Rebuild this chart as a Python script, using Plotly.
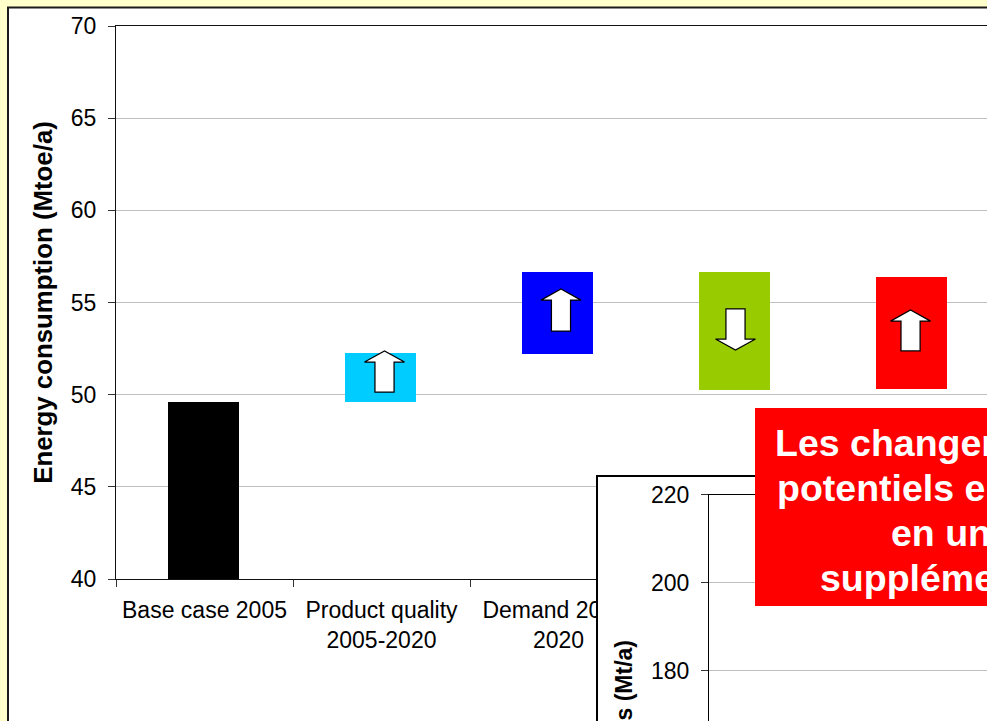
import plotly.graph_objects as go

W, H = 987, 721

categories = ["Base case 2005", "Product quality<br>2005-2020", "Demand 2005-<br>2020", "\u00a0", "\u00a0\u00a0"]
bar_base = [40, 49.6, 52.2, 50.25, 50.3]
bar_top = [49.6, 52.25, 56.65, 56.65, 56.4]
bar_colors = ["#000000", "#00CCFF", "#0000FF", "#99CC00", "#FF0000"]

arrow_cat = [1, 2, 3, 4]
arrow_tail = [50.14, 53.45, 54.65, 52.37]
arrow_tip = [52.37, 55.73, 52.42, 54.59]
arrow_shift = [0.017, 0.014, 0.0, -0.011]

main_ticks = [40, 45, 50, 55, 60, 65, 70]
inset_ticks = [180, 200, 220]

callout_lines = ["Les changem", "potentiels en", "en un", "supplémen"]
callout_x_px = [772.5, 774.5, 888.5, 817.5]
callout_y_px = [443, 488, 533, 578]

FONT = "Liberation Sans, Arial, sans-serif"


def px(x):
    return x / W


def py(y):
    return 1 - y / H


def arrow_path(c, tail, tip):
    head = 0.6 if tip > tail else -0.6
    hw, sw = 0.113, 0.054
    pts = [(c - sw, tail), (c - sw, tip - head), (c - hw, tip - head), (c, tip),
           (c + hw, tip - head), (c + sw, tip - head), (c + sw, tail)]
    return "M" + " L".join(f"{a},{b}" for a, b in pts) + " Z"


fig = go.Figure()
fig.add_trace(go.Bar(
    x=categories, y=[t - b for t, b in zip(bar_top, bar_base)], base=bar_base,
    width=0.402, offset=-0.207, marker=dict(color=bar_colors, line=dict(width=0)),
    xaxis="x", yaxis="y", showlegend=False,
))
fig.add_trace(go.Scatter(x=[None], y=[None], xaxis="x2", yaxis="y2", showlegend=False))
fig.add_trace(go.Scatter(x=[None], y=[None], xaxis="x3", yaxis="y3", showlegend=False))

shapes = [dict(type="rect", xref="paper", yref="paper", layer="below",
               x0=px(8), x1=1.02, y0=-0.02, y1=py(7.5),
               fillcolor="#FFFFFF", line=dict(color="#1a1a1a", width=2))]
for i, c in enumerate(arrow_cat):
    shapes.append(dict(type="path", xref="x", yref="y", layer="above",
                       path=arrow_path(c + arrow_shift[i], arrow_tail[i], arrow_tip[i]),
                       fillcolor="#FFFFFF", line=dict(color="#000000", width=1.25)))
shapes.append(dict(type="rect", xref="paper", yref="paper", layer="above",
                   x0=px(755), x1=1.02, y0=py(606), y1=py(408),
                   fillcolor="#FF0000", line=dict(width=0)))

annotations = [dict(text=t, x=px(a), y=py(b), xref="paper", yref="paper",
                    xanchor="left", yanchor="middle", showarrow=False,
                    font=dict(family=FONT, size=37.5, color="#FFFFFF", weight="bold"))
               for t, a, b in zip(callout_lines, callout_x_px, callout_y_px)]
annotations.append(dict(text="s (Mt/a)", x=px(623), y=py(638), xref="paper", yref="paper",
                        xanchor="center", yanchor="top", textangle=-90, showarrow=False,
                        font=dict(family=FONT, size=23, color="#000000", weight="bold")))

fig.update_layout(
    width=W, height=H, autosize=False, margin=dict(l=0, r=0, t=0, b=0, autoexpand=False),
    paper_bgcolor="#FFFFCC", plot_bgcolor="#FFFFFF", showlegend=False,
    font=dict(family=FONT, size=23, color="#000000"),
    shapes=shapes, annotations=annotations, bargap=0,
    xaxis=dict(domain=[px(116), 1], range=[-0.5, -0.5 + 871 / 177], type="category",
               categoryorder="array", categoryarray=categories, tickson="boundaries",
               ticks="outside", ticklen=7, tickcolor="#333333", tickwidth=1, automargin=False,
               ticklabelstandoff=10,
               showline=True, linecolor="#111111", linewidth=1, mirror=True,
               showgrid=False, tickfont=dict(size=23), anchor="y"),
    yaxis=dict(domain=[py(579), py(26)], range=[40, 70], tickvals=main_ticks, automargin=False,
               ticks="outside", ticklen=7, tickcolor="#333333", showline=True,
               ticklabelstandoff=7,
               linecolor="#111111", linewidth=1, showgrid=True, gridcolor="#C0C0C0",
               zeroline=False, anchor="x",
               title=dict(text="<b>Energy consumption (Mtoe/a)</b>", standoff=10,
                          font=dict(size=25.8))),
    xaxis2=dict(domain=[px(598), 1], range=[0, 1], side="top", anchor="y2", showline=True,
                linecolor="#000000", linewidth=1.5, ticks="", showticklabels=False,
                showgrid=False, zeroline=False, automargin=False),
    yaxis2=dict(domain=[0, py(476.5)], range=[0, 1], anchor="x2", showline=True,
                linecolor="#000000", linewidth=1.5, ticks="", showticklabels=False,
                showgrid=False, zeroline=False, automargin=False),
    xaxis3=dict(domain=[px(709), 1], range=[0, 1], side="top", anchor="y3", showline=True,
                linecolor="#000000", linewidth=1, ticks="", showticklabels=False,
                showgrid=False, zeroline=False, automargin=False),
    yaxis3=dict(domain=[0, py(494.5)], range=[220 - (721 - 494.5) / 4.4, 220], anchor="x3",
                tickvals=inset_ticks, ticks="outside", ticklen=7, tickcolor="#333333",
                ticklabelstandoff=7,
                showline=True, linecolor="#000000", linewidth=1, showgrid=True,
                gridcolor="#C0C0C0", zeroline=False, automargin=False),
)

fig.write_html("out.html", config={"displayModeBar": False},
               post_script="document.body.style.margin='0';document.body.style.overflow='hidden';")
